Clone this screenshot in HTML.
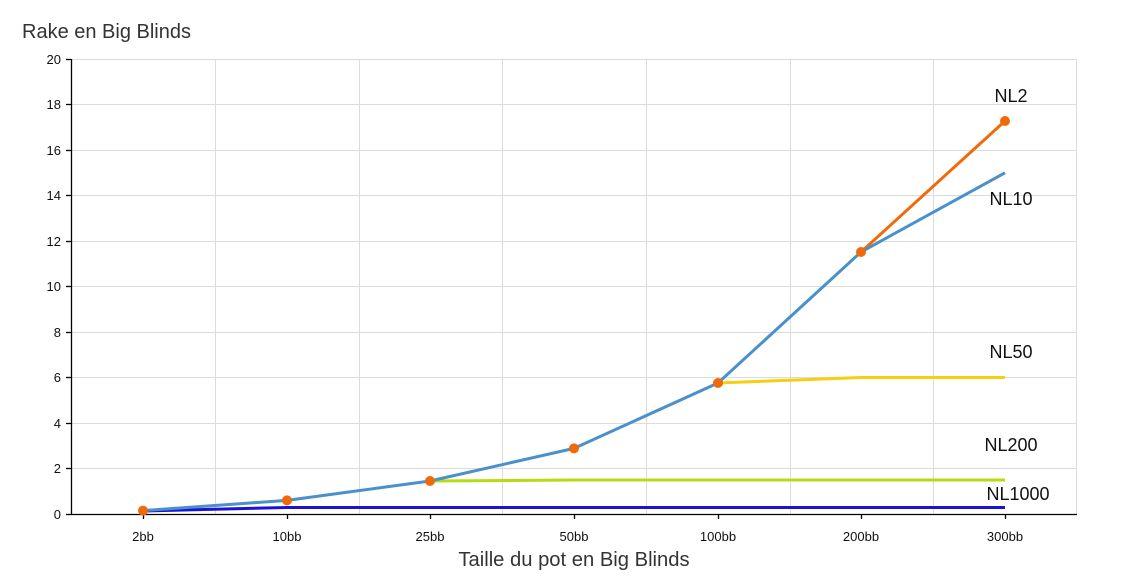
<!DOCTYPE html>
<html><head><meta charset="utf-8"><style>
html,body{margin:0;padding:0;background:#fff;}
svg{display:block;font-family:"Liberation Sans",sans-serif;}
</style></head><body>
<svg width="1134" height="583" viewBox="0 0 1134 583" xmlns="http://www.w3.org/2000/svg">
<text x="22" y="38" font-size="20" fill="#333">Rake en Big Blinds</text>
<g stroke="#dcdcdc" stroke-width="1">
<line x1="71" y1="59.5" x2="1077" y2="59.5"/>
<line x1="71" y1="104.5" x2="1077" y2="104.5"/>
<line x1="71" y1="150.5" x2="1077" y2="150.5"/>
<line x1="71" y1="195.5" x2="1077" y2="195.5"/>
<line x1="71" y1="241.5" x2="1077" y2="241.5"/>
<line x1="71" y1="286.5" x2="1077" y2="286.5"/>
<line x1="71" y1="332.5" x2="1077" y2="332.5"/>
<line x1="71" y1="377.5" x2="1077" y2="377.5"/>
<line x1="71" y1="423.5" x2="1077" y2="423.5"/>
<line x1="71" y1="468.5" x2="1077" y2="468.5"/>
<line x1="215.5" y1="59" x2="215.5" y2="514"/>
<line x1="359.5" y1="59" x2="359.5" y2="514"/>
<line x1="502.5" y1="59" x2="502.5" y2="514"/>
<line x1="646.5" y1="59" x2="646.5" y2="514"/>
<line x1="790.5" y1="59" x2="790.5" y2="514"/>
<line x1="933.5" y1="59" x2="933.5" y2="514"/>
<line x1="1076.5" y1="59" x2="1076.5" y2="514"/>
</g>
<g stroke="#000" stroke-width="1.3">
<line x1="71.5" y1="59" x2="71.5" y2="515"/>
<line x1="71" y1="514.5" x2="1077" y2="514.5"/>
<line x1="66" y1="59.5" x2="71" y2="59.5"/><line x1="66" y1="104.5" x2="71" y2="104.5"/><line x1="66" y1="150.5" x2="71" y2="150.5"/><line x1="66" y1="195.5" x2="71" y2="195.5"/><line x1="66" y1="241.5" x2="71" y2="241.5"/><line x1="66" y1="286.5" x2="71" y2="286.5"/><line x1="66" y1="332.5" x2="71" y2="332.5"/><line x1="66" y1="377.5" x2="71" y2="377.5"/><line x1="66" y1="423.5" x2="71" y2="423.5"/><line x1="66" y1="468.5" x2="71" y2="468.5"/><line x1="66" y1="514.5" x2="71" y2="514.5"/>
<line x1="143.5" y1="514" x2="143.5" y2="519"/><line x1="287.5" y1="514" x2="287.5" y2="519"/><line x1="430.5" y1="514" x2="430.5" y2="519"/><line x1="574.5" y1="514" x2="574.5" y2="519"/><line x1="718.5" y1="514" x2="718.5" y2="519"/><line x1="861.5" y1="514" x2="861.5" y2="519"/><line x1="1005.5" y1="514" x2="1005.5" y2="519"/>
</g>
<g font-size="13" fill="#111" text-anchor="end">
<text x="61" y="64">20</text><text x="61" y="109">18</text><text x="61" y="155">16</text><text x="61" y="200">14</text><text x="61" y="246">12</text><text x="61" y="291">10</text><text x="61" y="337">8</text><text x="61" y="382">6</text><text x="61" y="428">4</text><text x="61" y="473">2</text><text x="61" y="519">0</text>
</g>
<g font-size="13" fill="#111" text-anchor="middle">
<text x="143" y="541">2bb</text><text x="287" y="541">10bb</text><text x="430" y="541">25bb</text><text x="574" y="541">50bb</text><text x="718" y="541">100bb</text><text x="861" y="541">200bb</text><text x="1005" y="541">300bb</text>
</g>
<text x="574" y="566" font-size="20.2" fill="#333" text-anchor="middle">Taille du pot en Big Blinds</text>
<g fill="none" stroke-width="3" stroke-linejoin="round">
<polyline stroke="#1a12d6" points="143,511 287,507.5 430,507.5 574,507.5 718,507.5 861,507.5 1005,507.5"/>
<polyline stroke="#b5dc10" points="430,481 574,480 718,480 861,480 1005,480"/>
<polyline stroke="#f5cf10" points="718,383 861,377.5 1005,377.5"/>
<polyline stroke="#f06a0a" points="861,252 1005,121"/>
<polyline stroke="#4a90cc" points="143,510.6 287,500.4 430,481 574,448.4 718,383 861,252 1005,172.8"/>
</g>
<g fill="#f06a0a">
<circle cx="143" cy="510.6" r="5"/><circle cx="287" cy="500.4" r="5"/><circle cx="430" cy="481" r="5"/><circle cx="574" cy="448.4" r="5"/><circle cx="718" cy="383" r="5"/><circle cx="861" cy="252" r="5"/><circle cx="1005" cy="121" r="5"/>
</g>
<g font-size="18" fill="#111" text-anchor="middle">
<text x="1011" y="102">NL2</text>
<text x="1011" y="205">NL10</text>
<text x="1011" y="358">NL50</text>
<text x="1011" y="451">NL200</text>
<text x="1018" y="500">NL1000</text>
</g>
</svg>
</body></html>
